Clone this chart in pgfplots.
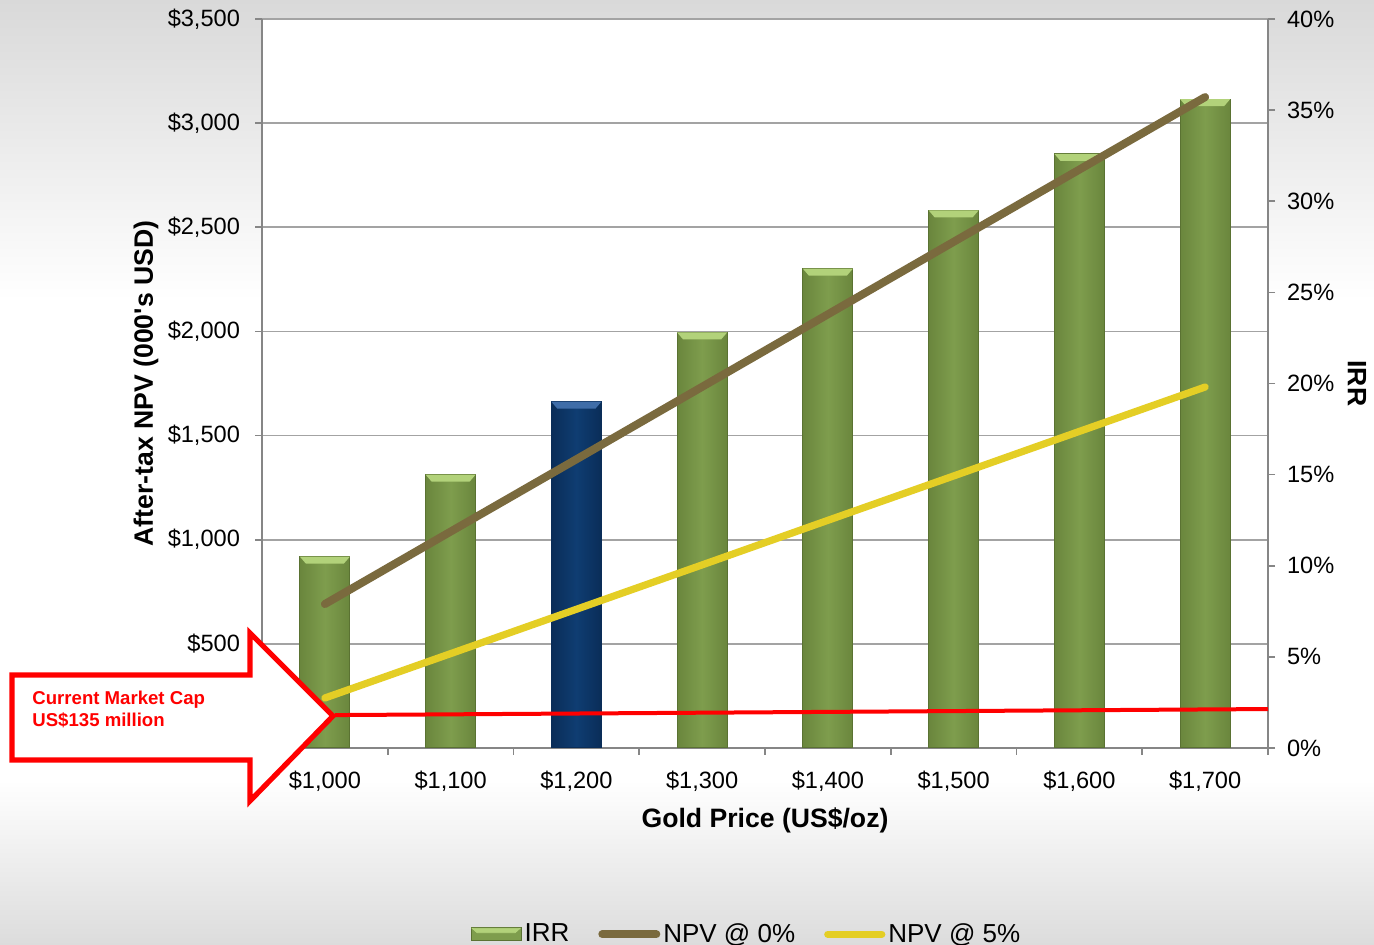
\documentclass[border=0pt]{standalone}
\usepackage{fontspec}
\setmainfont{Liberation Sans}[Ligatures=TeXOff]
\usepackage{pgfplots}
\pgfplotsset{compat=1.18}
\usepackage{pgfplotstable}

\definecolor{axisgray}{HTML}{868686}
\definecolor{gridgray}{HTML}{A3A3A3}
\definecolor{greenmain}{HTML}{7E9D4D}
\definecolor{greendark}{HTML}{6A863D}
\definecolor{greenedge}{HTML}{5A7232}
\definecolor{greencap}{HTML}{B2D27A}
\definecolor{navymain}{HTML}{0F3D72}
\definecolor{navydark}{HTML}{0A2D58}
\definecolor{navycap}{HTML}{3F6DA8}
\definecolor{npvbrown}{HTML}{7A6A3E}
\definecolor{npvyellow}{HTML}{E4CE25}
\definecolor{bgtop}{HTML}{D9D9D9}
\definecolor{bgbot}{HTML}{DCDCDC}

\pgfdeclareplotmark{barcap}{%
  \pgfpathmoveto{\pgfpoint{-12.5pt}{0pt}}%
  \pgfpathlineto{\pgfpoint{12.5pt}{0pt}}%
  \pgfpathlineto{\pgfpoint{9.5pt}{-3.5pt}}%
  \pgfpathlineto{\pgfpoint{-9.5pt}{-3.5pt}}%
  \pgfpathclose
  \pgfusepath{fill}}

\pgfplotsset{
  lineleg/.style={legend image code/.code={\draw[##1] (0pt,0pt) -- (27pt,0pt);}},
  barleg/.style={legend image code/.code={
    \draw[fill=greenmain, draw=greenedge] (0pt,-3.3pt) rectangle (25pt,3.3pt);
    \fill[greencap] (0.5pt,3pt) -- (24.5pt,3pt) -- (22pt,0.8pt) -- (3pt,0.8pt) -- cycle;}},
  greenbar/.style={ybar, bar width=25pt, bar shift=0pt, draw=greenedge, line width=0.5pt,
    left color=greendark, right color=greendark, middle color=greenmain,
    restrict x to domain=#1:#1},
  navybar/.style={ybar, bar width=25pt, bar shift=0pt, draw=navydark, line width=0.5pt,
    left color=navydark, right color=navydark, middle color=navymain,
    restrict x to domain=#1:#1},
}

% IRR (%) by gold price index 0..7 = $1,000..$1,700
\pgfplotstableread{
x irr
0 10.5
1 15.0
2 19.0
3 22.8
4 26.3
5 29.5
6 32.6
7 35.6
}\irr
% After-tax NPV (000's USD)
\pgfplotstableread{
x npv0 npv5
0 691 240
1 1039 453
2 1386 666
3 1734 879
4 2082 1093
5 2430 1306
6 2777 1520
7 3125 1733
}\npv
\pgfplotstableread{
x cap
0.08 158
7.5 187
}\mcap

\newcommand{\tickfont}{\fontsize{11.8}{14}\selectfont}
\newcommand{\labfont}{\bfseries\fontsize{13.3}{16}\selectfont}

\begin{document}
\begin{tikzpicture}
% background
\fill[top color=bgtop, bottom color=white] (0pt,322.5pt) rectangle (687pt,472.5pt);
\fill[white] (0pt,82.5pt) rectangle (687pt,322.6pt);
\fill[top color=white, bottom color=bgbot] (0pt,0pt) rectangle (687pt,82.6pt);

\pgfplotsset{every axis/.append style={
  scale only axis, width=503pt, height=364.5pt,
  at={(131pt,98.5pt)}, anchor=south west,
  xmin=-0.5, xmax=7.5,
  axis line style={draw=axisgray, line width=1pt},
  tick style={draw=axisgray, line width=0.8pt},
  tick align=outside, major tick length=3.5pt,
  ticklabel style={font=\tickfont},
}}

% Axis A: left axis, grid
\begin{axis}[
  ymin=0, ymax=3500,
  axis x line*=bottom, axis y line*=left,
  ytick={0,500,...,3500},
  yticklabels={{\$0},{\$500},{\$1,000},{\$1,500},{\$2,000},{\$2,500},{\$3,000},{\$3,500}},
  yticklabel style={xshift=-4pt},
  ymajorgrids, major grid style={draw=gridgray, line width=0.8pt},
  xtick={-0.5,0.5,...,7.5}, xticklabels={},
  axis background/.style={fill=white},
  ylabel={After-tax NPV (000's USD)},
  ylabel style={font=\labfont, at={(axis description cs:-0.1153,0.5)}, anchor=center},
  xlabel={Gold Price (US\$/oz)},
  xlabel style={font=\labfont, at={(axis description cs:0.5,-0.099)}, anchor=center},
]
\addplot[draw=none, forget plot] coordinates {(0,0)};
\end{axis}

% Axis B: right axis, IRR bars
\begin{axis}[
  ymin=0, ymax=40,
  axis x line*=bottom, axis y line*=right,
  ytick={0,5,...,40},
  yticklabels={0\%,5\%,10\%,15\%,20\%,25\%,30\%,35\%,40\%},
  yticklabel style={xshift=2.5pt},
  xtick={0,...,7},
  xticklabels={{\$1,000},{\$1,100},{\$1,200},{\$1,300},{\$1,400},{\$1,500},{\$1,600},{\$1,700}},
  xticklabel style={yshift=-4.5pt},
  xtick style={draw=none},
  ylabel={IRR},
  ylabel style={font=\labfont, at={(axis description cs:1.0885,0.5)}, anchor=center, rotate=180},
]
\addplot[greenbar=0] table[x=x, y=irr] {\irr};
\addplot[greenbar=1] table[x=x, y=irr] {\irr};
\addplot[navybar=2]  table[x=x, y=irr] {\irr};
\addplot[greenbar=3] table[x=x, y=irr] {\irr};
\addplot[greenbar=4] table[x=x, y=irr] {\irr};
\addplot[greenbar=5] table[x=x, y=irr] {\irr};
\addplot[greenbar=6] table[x=x, y=irr] {\irr};
\addplot[greenbar=7] table[x=x, y=irr] {\irr};
\addplot[only marks, mark=barcap, mark options={fill=greencap, draw=none},
  restrict x to domain=0:1] table[x=x, y=irr] {\irr};
\addplot[only marks, mark=barcap, mark options={fill=navycap, draw=none},
  restrict x to domain=2:2] table[x=x, y=irr] {\irr};
\addplot[only marks, mark=barcap, mark options={fill=greencap, draw=none},
  restrict x to domain=3:7] table[x=x, y=irr] {\irr};
\end{axis}

% Axis C: NPV lines, legend
\begin{axis}[
  ymin=0, ymax=3500,
  hide axis,
  legend columns=-1,
  legend style={at={(0.4821,-0.2555)}, anchor=center, draw=none, fill=none,
    font=\fontsize{13}{15}\selectfont,
    nodes={inner sep=1.5pt},
    /tikz/every even column/.append style={column sep=13pt}},
]
\addlegendimage{barleg}
\addlegendentry{IRR}
\addplot[npvbrown, line width=4pt, line cap=round, lineleg]
  table[x=x, y=npv0] {\npv};
\addlegendentry{NPV @ 0\%}
\addplot[npvyellow, line width=3.6pt, line cap=round, lineleg]
  table[x=x, y=npv5] {\npv};
\addlegendentry{NPV @ 5\%}
\addplot[red, line width=2pt, forget plot] table[x=x, y=cap] {\mcap};
\end{axis}

% Annotation arrow
\draw[red, line width=2.6pt, fill=white, line join=miter]
  (6pt,135pt) -- (125pt,135pt) -- (125pt,156pt) -- (166.5pt,114.5pt)
  -- (125pt,72pt) -- (125pt,92.5pt) -- (6pt,92.5pt) -- cycle;
\node[anchor=west, align=left, inner sep=0pt, text=red,
  font=\bfseries\fontsize{9.3}{11}\selectfont] at (16pt,118pt)
  {Current Market Cap\\US\$135 million};

\pgfresetboundingbox
\useasboundingbox (0pt,0pt) rectangle (687pt,472.5pt);
\end{tikzpicture}
\end{document}
